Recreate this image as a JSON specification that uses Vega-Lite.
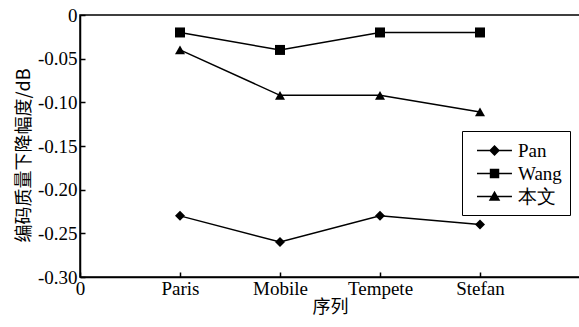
{
  "$schema": "https://vega.github.io/schema/vega-lite/v6.json",
  "width": 500,
  "height": 262,
  "autosize": "none",
  "padding": {"left": 80, "top": 15, "right": 0, "bottom": 50},
  "background": "white",
  "config": {
    "view": {"stroke": "black", "strokeWidth": 1.5},
    "font": "Liberation Serif",
    "axis": {
      "grid": false,
      "domainColor": "black",
      "domainWidth": 1.5,
      "tickColor": "black",
      "tickWidth": 1.5,
      "tickSize": -5,
      "labelColor": "black",
      "labelFont": "Liberation Serif",
      "labelFontSize": 19,
      "labelFontWeight": "normal",
      "titleFont": "Noto Sans CJK SC",
      "titleFontSize": 18,
      "titleFontWeight": "normal",
      "titleColor": "black"
    }
  },
  "data": {
    "values": [
      {"series": "Pan", "x": 1, "y": -0.23},
      {"series": "Pan", "x": 2, "y": -0.26},
      {"series": "Pan", "x": 3, "y": -0.23},
      {"series": "Pan", "x": 4, "y": -0.24},
      {"series": "Wang", "x": 1, "y": -0.02},
      {"series": "Wang", "x": 2, "y": -0.04},
      {"series": "Wang", "x": 3, "y": -0.02},
      {"series": "Wang", "x": 4, "y": -0.02},
      {"series": "本文", "x": 1, "y": -0.04},
      {"series": "本文", "x": 2, "y": -0.092},
      {"series": "本文", "x": 3, "y": -0.092},
      {"series": "本文", "x": 4, "y": -0.111}
    ]
  },
  "encoding": {
    "x": {
      "field": "x",
      "type": "quantitative",
      "scale": {"domain": [0, 5], "nice": false},
      "axis": {
        "title": "序列",
        "values": [0, 1, 2, 3, 4],
        "labelExpr": "['0','Paris','Mobile','Tempete','Stefan'][datum.value]",
        "labelPadding": 7,
        "titlePadding": 0,
        "labelFlush": false
      }
    },
    "y": {
      "field": "y",
      "type": "quantitative",
      "scale": {"domain": [-0.3, 0], "nice": false},
      "axis": {
        "title": "编码质量下降幅度/dB",
        "titleY": 140,
        "values": [-0.3, -0.25, -0.2, -0.15, -0.1, -0.05, 0],
        "labelExpr": "datum.value == 0 ? '0' : replace(format(datum.value, '.2f'), '\u2212', '-')",
        "labelPadding": 8,
        "titlePadding": 4,
        "labelFlush": false
      }
    }
  },
  "layer": [
    {
      "mark": {"type": "line", "color": "black", "strokeWidth": 1.5},
      "encoding": {"detail": {"field": "series"}}
    },
    {
      "mark": {"type": "point", "filled": true, "color": "black", "opacity": 1, "size": 100},
      "encoding": {
        "shape": {
          "field": "series",
          "type": "nominal",
          "scale": {"domain": ["Pan", "Wang", "本文"], "range": ["diamond", "square", "triangle-up"]},
          "legend": null
        }
      }
    },
    {
      "mark": {"type": "point", "filled": true, "color": "black", "opacity": 0, "size": 1},
      "encoding": {
        "shape": {
          "field": "series",
          "type": "nominal",
          "scale": {
            "domain": ["Pan", "Wang", "本文"],
            "range": [
              "M-0.43,-0.07L2.9,-0.07L2.9,0.07L-0.43,0.07ZM1.24,-0.52L1.76,0L1.24,0.52L0.72,0Z",
              "M-0.43,-0.07L2.9,-0.07L2.9,0.07L-0.43,0.07ZM0.79,-0.45L1.69,-0.45L1.69,0.45L0.79,0.45Z",
              "M-0.43,-0.07L2.9,-0.07L2.9,0.07L-0.43,0.07ZM1.24,-0.55L1.79,0.4L0.69,0.4Z"
            ]
          },
          "legend": {
            "title": null,
            "orient": "none",
            "legendX": 382,
            "legendY": 116,
            "strokeColor": "black",
            "fillColor": "white",
            "padding": 8,
            "rowPadding": 1,
            "symbolSize": 441,
            "symbolOpacity": 1,
            "symbolStrokeWidth": 1.5,
            "symbolStrokeColor": "black",
            "symbolFillColor": "black",
            "labelFont": "Liberation Serif",
            "labelFontSize": 19,
            "labelColor": "black",
            "labelOffset": 25,
            "encode": {
              "symbols": {
                "update": {
                  "fill": {"value": "black"},
                  "opacity": {"value": 1}
                }
              }
            }
          }
        }
      }
    }
  ],
  "resolve": {"scale": {"shape": "independent"}, "legend": {"shape": "independent"}}
}
